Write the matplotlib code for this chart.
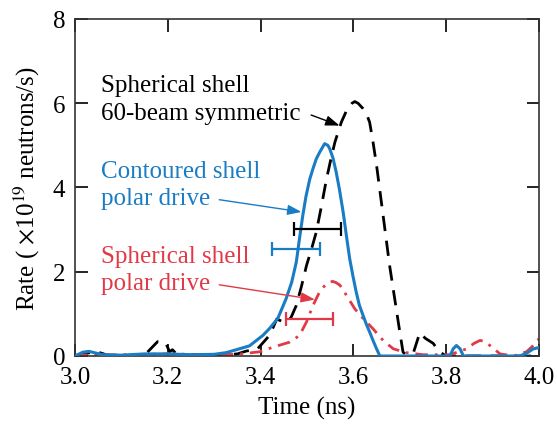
import numpy as np
import matplotlib.pyplot as plt

plt.rcParams['font.family'] = ['Liberation Serif', 'DejaVu Serif']
plt.rcParams['mathtext.fontset'] = 'stix'

# Contoured shell, polar drive (blue solid)
t_blue = [3.0, 3.017, 3.03, 3.06, 3.1, 3.15, 3.2, 3.25, 3.3, 3.326, 3.376, 3.405, 3.419,
          3.437, 3.455, 3.467, 3.477, 3.484, 3.491, 3.498, 3.506, 3.513, 3.52, 3.528,
          3.538, 3.545, 3.549, 3.556, 3.563, 3.57, 3.578, 3.585, 3.592, 3.599, 3.606,
          3.613, 3.621, 3.628, 3.635, 3.643, 3.65, 3.657, 3.7, 3.75, 3.808, 3.815, 3.822,
          3.83, 3.837, 3.9, 3.959, 3.975, 3.988, 4.0]
r_blue = [0.0, 0.09, 0.11, 0.03, 0.02, 0.05, 0.05, 0.03, 0.04, 0.08, 0.24, 0.49, 0.65,
          0.89, 1.36, 1.75, 2.23, 2.8, 3.34, 3.8, 4.2, 4.45, 4.68, 4.85,
          5.04, 5.0, 4.92, 4.7, 4.36, 3.95, 3.41, 2.85, 2.31, 1.9, 1.52,
          1.2, 0.96, 0.75, 0.57, 0.35, 0.17, 0.0, 0.0, 0.0, 0.0, 0.17, 0.25,
          0.17, 0.0, 0.0, 0.0, 0.08, 0.17, 0.2]

# Spherical shell, 60-beam symmetric (black dashed)
t_black = [3.0, 3.02, 3.045, 3.07, 3.1, 3.15, 3.178, 3.195, 3.204, 3.21, 3.22, 3.25, 3.3,
           3.35, 3.37, 3.392, 3.42, 3.435, 3.45, 3.465, 3.477, 3.488, 3.499, 3.51, 3.52,
           3.531, 3.542, 3.551, 3.56, 3.574, 3.585, 3.597, 3.603, 3.61, 3.621, 3.628,
           3.635, 3.642, 3.65, 3.664, 3.678, 3.689, 3.7, 3.707, 3.714, 3.73, 3.743,
           3.755, 3.772, 3.785, 3.8, 3.85, 3.9, 4.0]
r_black = [0.0, 0.05, 0.11, 0.02, 0.0, 0.02, 0.34, 0.32, 0.1, 0.15, 0.03, 0.02, 0.01,
           0.05, 0.12, 0.15, 0.5, 0.88, 0.8, 0.9, 1.2, 1.65, 2.15, 2.55, 2.94,
           3.55, 4.2, 4.65, 5.07, 5.55, 5.82, 6.0, 6.04, 6.0, 5.87, 5.75,
           5.55, 5.1, 4.52, 3.34, 2.15, 1.36, 0.57, 0.09, 0.03, 0.1, 0.55,
           0.42, 0.3, 0.1, 0.0, 0.0, 0.0, 0.0]

# Spherical shell, polar drive (red dash-dot)
t_red = [3.0, 3.1, 3.2, 3.3, 3.35, 3.398, 3.427, 3.463, 3.484, 3.499, 3.513, 3.527,
         3.542, 3.549, 3.556, 3.563, 3.571, 3.578, 3.585, 3.603, 3.621, 3.642, 3.664,
         3.686, 3.714, 3.75, 3.808, 3.844, 3.86, 3.873, 3.884, 3.894, 3.916, 3.945,
         3.973, 3.985, 3.995, 4.0]
r_red = [0.02, 0.03, 0.05, 0.03, 0.04, 0.1, 0.21, 0.33, 0.49, 0.81, 1.2, 1.52,
         1.72, 1.76, 1.77, 1.74, 1.68, 1.57, 1.44, 1.12, 0.89, 0.65, 0.37,
         0.17, 0.08, 0.03, 0.03, 0.17, 0.3, 0.37, 0.34, 0.25, 0.05, 0.0,
         0.1, 0.22, 0.37, 0.4]

# horizontal error bars: (left, right, y)
err_black = (3.473, 3.573, 3.02)
err_blue = (3.425, 3.527, 2.53)
err_red = (3.454, 3.555, 0.885)

blue = '#1a7cc4'
red = '#e13a46'

fig = plt.figure(figsize=(5.57, 4.31), dpi=100)
ax = fig.add_axes([0.1346, 0.1717, 0.8331, 0.7819])

ax.plot(t_blue, r_blue, color=blue, lw=2.2, zorder=3)
ax.plot(t_black, r_black, color='black', lw=2.0, dashes=(5.5, 3.5), zorder=2)
ax.plot(t_red, r_red, color=red, lw=2.0, dashes=(4.5, 2.5, 1, 2.5), zorder=2)

for (x0, x1, y), c in [(err_black, 'black'), (err_blue, blue), (err_red, red)]:
    ax.errorbar([(x0 + x1) / 2], [y], xerr=[(x1 - x0) / 2], fmt='none',
                ecolor=c, elinewidth=1.6, capsize=5, capthick=1.6, zorder=4)

fs = 18
ax.text(3.056, 6.28, 'Spherical shell', fontsize=fs, color='black')
ax.text(3.056, 5.63, '60-beam symmetric', fontsize=fs, color='black')
ax.text(3.056, 4.25, 'Contoured shell', fontsize=fs, color=blue)
ax.text(3.056, 3.60, 'polar drive', fontsize=fs, color=blue)
ax.text(3.056, 2.23, 'Spherical shell', fontsize=fs, color=red)
ax.text(3.056, 1.58, 'polar drive', fontsize=fs, color=red)

ax.annotate('', xy=(3.57, 5.47), xytext=(3.509, 5.72),
            arrowprops=dict(arrowstyle='-|>,head_length=0.6,head_width=0.22',
                            color='black', lw=1.0, mutation_scale=14,
                            shrinkA=0, shrinkB=0))
ax.annotate('', xy=(3.488, 3.42), xytext=(3.311, 3.71),
            arrowprops=dict(arrowstyle='-|>,head_length=0.6,head_width=0.22',
                            color=blue, lw=1.0, mutation_scale=14,
                            shrinkA=0, shrinkB=0))
ax.annotate('', xy=(3.517, 1.34), xytext=(3.311, 1.69),
            arrowprops=dict(arrowstyle='-|>,head_length=0.6,head_width=0.22',
                            color=red, lw=1.0, mutation_scale=14,
                            shrinkA=0, shrinkB=0))

ax.set_xlim(3.0, 4.0)
ax.set_ylim(0, 8)
ax.set_xticks(np.arange(3.0, 4.01, 0.2))
ax.set_xticklabels(['3.0', '3.2', '3.4', '3.6', '3.8', '4.0'])
ax.set_yticks([0, 2, 4, 6, 8])
ax.tick_params(direction='in', length=9, width=1.2, top=True, right=True,
               labelsize=18, pad=7)
for s in ax.spines.values():
    s.set_linewidth(1.2)
    s.set_color('#333333')

ax.set_xlabel('Time (ns)', fontsize=18, labelpad=6)
ax.set_ylabel(r'Rate ( $\times$10$^{19}$ neutrons/s)', fontsize=18, labelpad=8)

fig.savefig('out.png', dpi=100)
